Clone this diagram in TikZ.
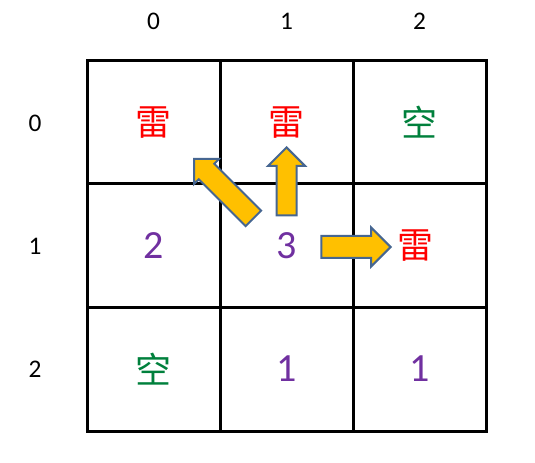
\documentclass[tikz,border=0pt]{standalone}
\usepackage{fontspec}
\setmainfont{Carlito}
\newfontfamily\cjk{Noto Sans CJK SC}
\usepackage{tikz}
\usetikzlibrary{shapes.arrows}

\definecolor{minered}{RGB}{255,0,0}
\definecolor{emptygreen}{RGB}{0,128,60}
\definecolor{countpurple}{RGB}{112,48,160}
\definecolor{arrowfill}{RGB}{255,192,0}
\definecolor{arrowedge}{RGB}{70,102,145}

\tikzset{
  head/.style={inner sep=0pt, font=\fontsize{19}{19}\selectfont},
  mine/.style={inner sep=0pt, text=minered, font=\cjk\fontsize{27}{27}\selectfont},
  blank/.style={inner sep=0pt, text=emptygreen, font=\cjk\fontsize{27}{27}\selectfont},
  count/.style={inner sep=0pt, text=countpurple, font=\fontsize{30}{30}\selectfont},
  blockarrow/.style={single arrow, draw=arrowedge, fill=arrowfill, line width=1.5pt,
    inner xsep=0pt, anchor=tip},
}

\begin{document}
\begin{tikzpicture}[x=0.75pt,y=-0.75pt]
    \useasboundingbox (0,0) rectangle (535,463);
    % board
    \draw [line width=2.25pt] (87,61) rectangle (486,431);
    \foreach \x in {220,353}
        \draw [line width=2.25pt] (\x,61) -- (\x,431);
    \foreach \y in {184,307}
        \draw [line width=2.25pt] (87,\y) -- (486,\y);
    % column and row numbers
    \node [head] (col0) at (153.5,21) {0};
    \node [head] (col1) at (286.5,21) {1};
    \node [head] (col2) at (419.5,21) {2};
    \node [head] (row0) at (35,123) {0};
    \node [head] (row1) at (35,246) {1};
    \node [head] (row2) at (35,369) {2};
    % cells
    \node [mine]  (c00) at (153.5,122.5) {雷};
    \node [mine]  (c01) at (286.5,122.5) {雷};
    \node [blank] (c02) at (419.5,122.5) {空};
    \node [count] (c10) at (153.5,245.5) {2};
    \node [count] (c11) at (286.5,245.5) {3};
    \node [mine]  (c12) at (415,245.5) {雷};
    \node [blank] (c20) at (153.5,369) {空};
    \node [count] (c21) at (286.5,369) {1};
    \node [count] (c22) at (419.5,369) {1};
    % arrows out of the 3
    \node [blockarrow, rotate=135, minimum height=63pt, inner ysep=7.5pt,
        single arrow head extend=5pt] (toleft) at (193,158) {};
    \node [blockarrow, rotate=90, minimum height=51pt, inner ysep=6.75pt,
        single arrow head extend=6.4pt] (toup) at (286.5,146) {};
    \node [blockarrow, minimum height=52pt, inner ysep=7.5pt,
        single arrow head extend=6.4pt] (toright) at (392,247) {};
\end{tikzpicture}
\end{document}
